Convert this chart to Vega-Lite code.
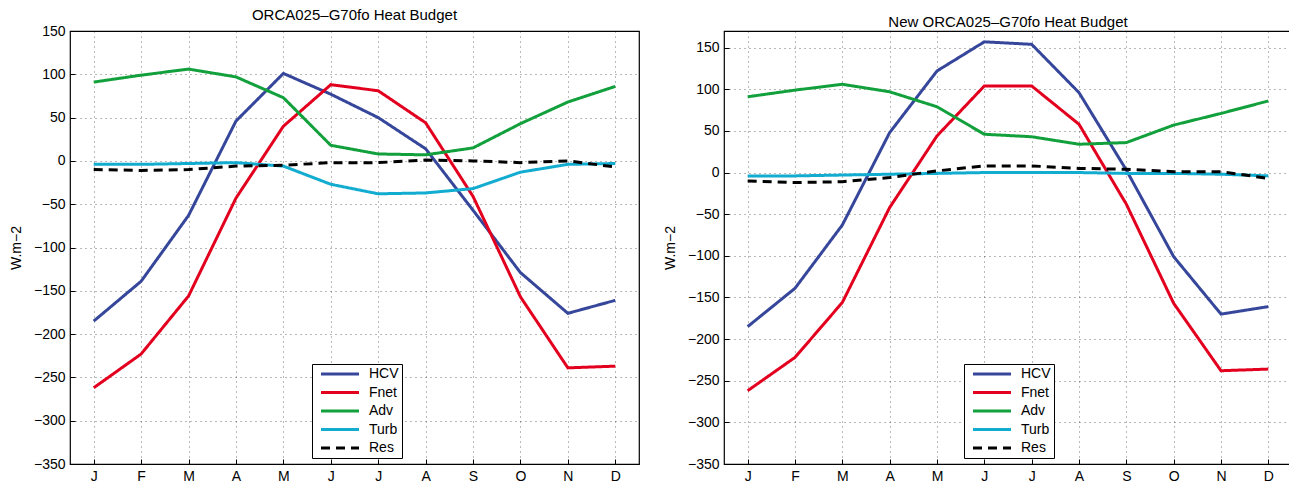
{
  "$schema": "https://vega.github.io/schema/vega-lite/v6.json",
  "padding": {"left": 8, "top": 7, "right": 0, "bottom": 0},
  "background": "white",
  "datasets": {
    "left": [
      {"series": "HCV", "month": 1, "value": -185}, {"series": "HCV", "month": 2, "value": -139}, {"series": "HCV", "month": 3, "value": -63}, {"series": "HCV", "month": 4, "value": 46}, {"series": "HCV", "month": 5, "value": 101}, {"series": "HCV", "month": 6, "value": 77}, {"series": "HCV", "month": 7, "value": 50}, {"series": "HCV", "month": 8, "value": 14}, {"series": "HCV", "month": 9, "value": -57}, {"series": "HCV", "month": 10, "value": -129}, {"series": "HCV", "month": 11, "value": -176}, {"series": "HCV", "month": 12, "value": -161},
      {"series": "Fnet", "month": 1, "value": -262}, {"series": "Fnet", "month": 2, "value": -223}, {"series": "Fnet", "month": 3, "value": -156}, {"series": "Fnet", "month": 4, "value": -43}, {"series": "Fnet", "month": 5, "value": 40}, {"series": "Fnet", "month": 6, "value": 88}, {"series": "Fnet", "month": 7, "value": 81}, {"series": "Fnet", "month": 8, "value": 44}, {"series": "Fnet", "month": 9, "value": -41}, {"series": "Fnet", "month": 10, "value": -157}, {"series": "Fnet", "month": 11, "value": -239}, {"series": "Fnet", "month": 12, "value": -237},
      {"series": "Adv", "month": 1, "value": 91}, {"series": "Adv", "month": 2, "value": 99}, {"series": "Adv", "month": 3, "value": 106}, {"series": "Adv", "month": 4, "value": 97}, {"series": "Adv", "month": 5, "value": 73}, {"series": "Adv", "month": 6, "value": 18}, {"series": "Adv", "month": 7, "value": 8}, {"series": "Adv", "month": 8, "value": 7}, {"series": "Adv", "month": 9, "value": 15}, {"series": "Adv", "month": 10, "value": 43}, {"series": "Adv", "month": 11, "value": 68}, {"series": "Adv", "month": 12, "value": 86},
      {"series": "Turb", "month": 1, "value": -4}, {"series": "Turb", "month": 2, "value": -4}, {"series": "Turb", "month": 3, "value": -3}, {"series": "Turb", "month": 4, "value": -2}, {"series": "Turb", "month": 5, "value": -6}, {"series": "Turb", "month": 6, "value": -27}, {"series": "Turb", "month": 7, "value": -38}, {"series": "Turb", "month": 8, "value": -37}, {"series": "Turb", "month": 9, "value": -32}, {"series": "Turb", "month": 10, "value": -13}, {"series": "Turb", "month": 11, "value": -4}, {"series": "Turb", "month": 12, "value": -3},
      {"series": "Res", "month": 1, "value": -10}, {"series": "Res", "month": 2, "value": -11}, {"series": "Res", "month": 3, "value": -10}, {"series": "Res", "month": 4, "value": -6}, {"series": "Res", "month": 5, "value": -5}, {"series": "Res", "month": 6, "value": -2}, {"series": "Res", "month": 7, "value": -2}, {"series": "Res", "month": 8, "value": 1}, {"series": "Res", "month": 9, "value": 0}, {"series": "Res", "month": 10, "value": -2}, {"series": "Res", "month": 11, "value": 0}, {"series": "Res", "month": 12, "value": -7}
    ],
    "right": [
      {"series": "HCV", "month": 1, "value": -185}, {"series": "HCV", "month": 2, "value": -139}, {"series": "HCV", "month": 3, "value": -63}, {"series": "HCV", "month": 4, "value": 48}, {"series": "HCV", "month": 5, "value": 122}, {"series": "HCV", "month": 6, "value": 157}, {"series": "HCV", "month": 7, "value": 154}, {"series": "HCV", "month": 8, "value": 96}, {"series": "HCV", "month": 9, "value": 3}, {"series": "HCV", "month": 10, "value": -101}, {"series": "HCV", "month": 11, "value": -170}, {"series": "HCV", "month": 12, "value": -161},
      {"series": "Fnet", "month": 1, "value": -262}, {"series": "Fnet", "month": 2, "value": -222}, {"series": "Fnet", "month": 3, "value": -156}, {"series": "Fnet", "month": 4, "value": -42}, {"series": "Fnet", "month": 5, "value": 44}, {"series": "Fnet", "month": 6, "value": 104}, {"series": "Fnet", "month": 7, "value": 104}, {"series": "Fnet", "month": 8, "value": 58}, {"series": "Fnet", "month": 9, "value": -38}, {"series": "Fnet", "month": 10, "value": -157}, {"series": "Fnet", "month": 11, "value": -238}, {"series": "Fnet", "month": 12, "value": -236},
      {"series": "Adv", "month": 1, "value": 91}, {"series": "Adv", "month": 2, "value": 99}, {"series": "Adv", "month": 3, "value": 106}, {"series": "Adv", "month": 4, "value": 97}, {"series": "Adv", "month": 5, "value": 79}, {"series": "Adv", "month": 6, "value": 46}, {"series": "Adv", "month": 7, "value": 43}, {"series": "Adv", "month": 8, "value": 34}, {"series": "Adv", "month": 9, "value": 36}, {"series": "Adv", "month": 10, "value": 57}, {"series": "Adv", "month": 11, "value": 71}, {"series": "Adv", "month": 12, "value": 86},
      {"series": "Turb", "month": 1, "value": -4}, {"series": "Turb", "month": 2, "value": -4}, {"series": "Turb", "month": 3, "value": -3}, {"series": "Turb", "month": 4, "value": -2}, {"series": "Turb", "month": 5, "value": -1}, {"series": "Turb", "month": 6, "value": 0}, {"series": "Turb", "month": 7, "value": 0}, {"series": "Turb", "month": 8, "value": 0}, {"series": "Turb", "month": 9, "value": -1}, {"series": "Turb", "month": 10, "value": -1}, {"series": "Turb", "month": 11, "value": -2}, {"series": "Turb", "month": 12, "value": -4},
      {"series": "Res", "month": 1, "value": -10}, {"series": "Res", "month": 2, "value": -12}, {"series": "Res", "month": 3, "value": -11}, {"series": "Res", "month": 4, "value": -6}, {"series": "Res", "month": 5, "value": 2}, {"series": "Res", "month": 6, "value": 8}, {"series": "Res", "month": 7, "value": 8}, {"series": "Res", "month": 8, "value": 5}, {"series": "Res", "month": 9, "value": 4}, {"series": "Res", "month": 10, "value": 1}, {"series": "Res", "month": 11, "value": 1}, {"series": "Res", "month": 12, "value": -7}
    ]
  },
  "spacing": 85,
  "bounds": "flush",
  "resolve": {
    "scale": {"color": "independent", "strokeDash": "independent", "y": "independent"},
    "legend": {"color": "independent", "strokeDash": "independent"}
  },
  "hconcat": [
    {
      "width": 569,
      "height": 433,
      "title": {"text": "ORCA025–G70fo Heat Budget"},
      "data": {"name": "left"},
      "mark": {"type": "line", "strokeWidth": 3, "clip": true},
      "encoding": {
        "x": {"field": "month", "type": "quantitative", "scale": {"domain": [0.5, 12.5], "nice": false, "zero": false},
              "axis": {"values": [1,2,3,4,5,6,7,8,9,10,11,12], "title": null,
                       "labelExpr": "['J','F','M','A','M','J','J','A','S','O','N','D'][datum.value-1]"}},
        "y": {"field": "value", "type": "quantitative", "scale": {"domain": [-350, 150], "nice": false},
              "axis": {"values": [-350,-300,-250,-200,-150,-100,-50,0,50,100,150], "title": "W.m−2", "titleX": -54, "titleY": 216.5}},
        "color": {"field": "series", "type": "nominal",
                  "scale": {"domain": ["HCV","Fnet","Adv","Turb","Res"], "range": ["#36479b","#e3001f","#12a03c","#12acd0","#000000"]},
                  "legend": {"orient": "none", "legendX": 242, "legendY": 333}},
        "strokeDash": {"field": "series", "type": "nominal",
                  "scale": {"domain": ["HCV","Fnet","Adv","Turb","Res"], "range": [[1,0],[1,0],[1,0],[1,0],[9,6]]},
                  "legend": {"orient": "none", "legendX": 242, "legendY": 333}}
      }
    },
    {
      "width": 568,
      "height": 433,
      "title": {"text": "New ORCA025–G70fo Heat Budget"},
      "data": {"name": "right"},
      "mark": {"type": "line", "strokeWidth": 3, "clip": true},
      "encoding": {
        "x": {"field": "month", "type": "quantitative", "scale": {"domain": [0.5, 12.5], "nice": false, "zero": false},
              "axis": {"values": [1,2,3,4,5,6,7,8,9,10,11,12], "title": null,
                       "labelExpr": "['J','F','M','A','M','J','J','A','S','O','N','D'][datum.value-1]"}},
        "y": {"field": "value", "type": "quantitative", "scale": {"domain": [-350, 170], "nice": false},
              "axis": {"values": [-350,-300,-250,-200,-150,-100,-50,0,50,100,150], "title": "W.m−2", "titleX": -54, "titleY": 216.5}},
        "color": {"field": "series", "type": "nominal",
                  "scale": {"domain": ["HCV","Fnet","Adv","Turb","Res"], "range": ["#36479b","#e3001f","#12a03c","#12acd0","#000000"]},
                  "legend": {"orient": "none", "legendX": 240, "legendY": 333}},
        "strokeDash": {"field": "series", "type": "nominal",
                  "scale": {"domain": ["HCV","Fnet","Adv","Turb","Res"], "range": [[1,0],[1,0],[1,0],[1,0],[9,6]]},
                  "legend": {"orient": "none", "legendX": 240, "legendY": 333}}
      }
    }
  ],
  "config": {
    "font": "Liberation Sans",
    "view": {"stroke": "#000000", "strokeWidth": 1.2},
    "title": {"fontSize": 15, "fontWeight": "normal", "color": "#000000", "offset": 1, "anchor": "middle"},
    "axis": {
      "labelFontSize": 14, "labelColor": "#000000", "labelPadding": 10,
      "ticks": true, "tickSize": -5, "tickColor": "#000000", "tickWidth": 1, "domain": false,
      "grid": true, "gridColor": "#000000", "gridDash": [1, 4], "gridOpacity": 0.55, "gridWidth": 1,
      "titleFontSize": 14, "titleFontWeight": "normal", "titleColor": "#000000",
      "titleAlign": "center", "titleBaseline": "middle"
    },
    "legend": {
      "title": null,
      "strokeColor": "#000000", "fillColor": "#ffffff", "padding": 3,
      "symbolType": "M-1,0H8.5", "symbolSize": 64, "symbolStrokeWidth": 3, "symbolOffset": 3,
      "labelOffset": 37, "labelFontSize": 14, "labelColor": "#000000",
      "rowPadding": 4.5
    }
  }
}
